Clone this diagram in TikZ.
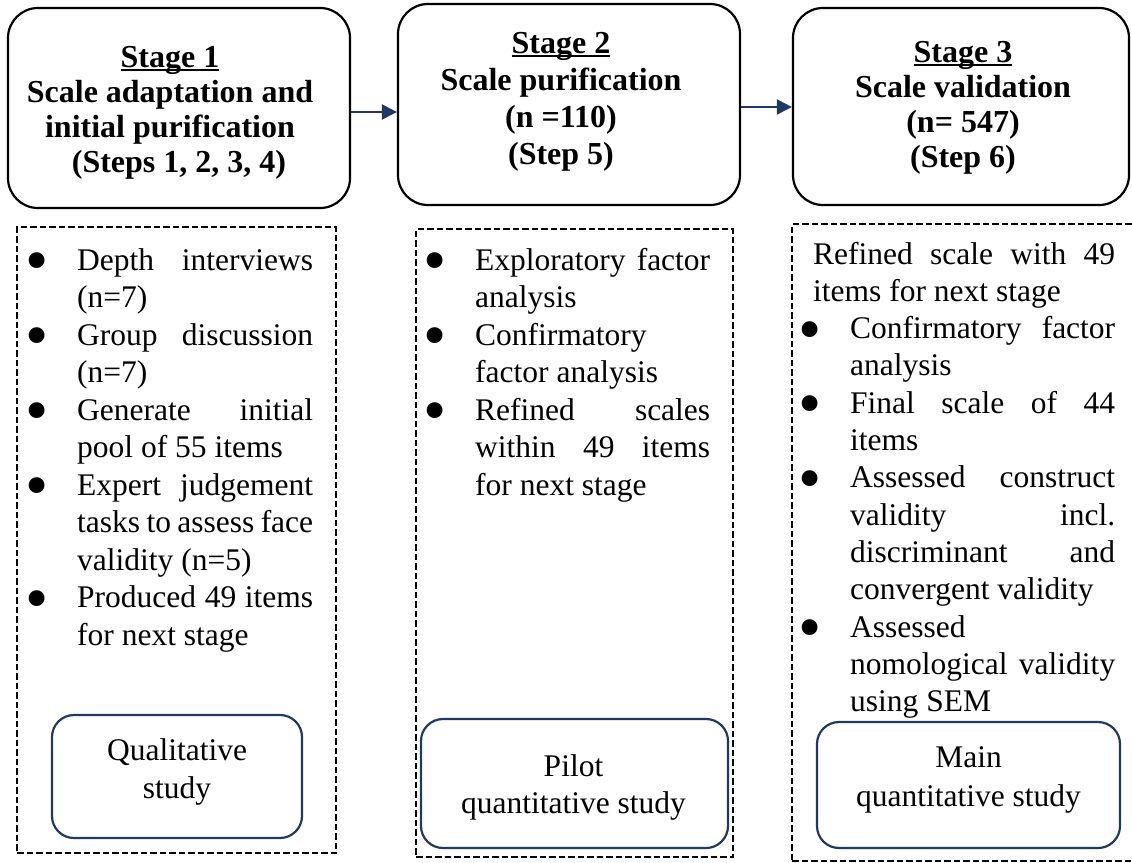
\documentclass[tikz,border=0pt]{standalone}
\usepackage{fontspec}
\setmainfont{Liberation Serif}
\usepackage{graphicx}
\usetikzlibrary{arrows.meta}
\definecolor{navy}{RGB}{31,56,100}
% a justified line spread to the full column width
\newcommand\jl[1]{\makebox[\linewidth][s]{#1}}
% bullet hanging to the left of the text column
\newcommand\bul{\leavevmode\llap{\makebox[51.6pt][l]{\raisebox{-12.5pt}{\scalebox{2.1}{\textbullet}}}}}
% underline drawn close to the baseline
\newcommand\stul[1]{\leavevmode\setbox0=\hbox{#1}\rlap{\rule[-4pt]{\wd0}{1.8pt}}\box0}
\begin{document}
\begin{tikzpicture}[x=1pt,y=-1pt,
  stagebox/.style={draw=black, line width=2.2pt, rounded corners=30pt, inner sep=0pt},
  listbox/.style={draw=black, line width=1.6pt, dash pattern=on 6.5pt off 3pt, inner sep=0pt},
  studybox/.style={draw=navy, line width=2.2pt, rounded corners=22pt, inner sep=0pt},
  flow/.style={draw=navy, line width=2.2pt, -{Triangle[length=15pt,width=15pt]}},
  stagetitle/.style={inner sep=0pt, anchor=base, font=\fontsize{32}{35}\selectfont\bfseries},
  listtext/.style={inner sep=0pt, anchor=base west, font=\fontsize{31.5}{37.5}\selectfont},
  studytext/.style={inner sep=0pt, anchor=base, font=\fontsize{31.5}{38}\selectfont},
]
\clip (0,0) rectangle (1132,862);

% stage headers
\node[stagebox, minimum width=342pt, minimum height=200pt] (s1) at (179,108) {};
\node[stagebox, minimum width=342pt, minimum height=201pt] (s2) at (569,104.5) {};
\node[stagebox, minimum width=336pt, minimum height=197pt] (s3) at (961,106.5) {};

\node[stagetitle] (t1) at (170,67) {\parbox[t]{330pt}{\centering
  \stul{Stage 1}\\
  Scale adaptation and\\
  initial purification\hspace*{20pt}\\
  \hspace*{18pt}(Steps 1, 2, 3, 4)}};
\node[stagetitle, font=\fontsize{32}{37.3}\selectfont\bfseries] (t2) at (561,53) {\parbox[t]{330pt}{\centering
  \stul{Stage 2}\\
  Scale purification\\
  (n =110)\\
  (Step 5)}};
\node[stagetitle] (t3) at (963,62) {\parbox[t]{330pt}{\centering
  \stul{Stage 3}\hspace*{14pt}\\
  Scale validation\\
  (n= 547)\\
  (Step 6)}};

\draw[flow] ([yshift=-4pt]s1.east) -- ([yshift=-7.5pt]s2.west);
\draw[flow] ([yshift=-2.5pt]s2.east) -- ([yshift=-0.5pt]s3.west);

% dashed detail panels
\node[listbox, minimum width=319pt, minimum height=626pt] (da) at (176.5,540) {};
\node[listbox, minimum width=317pt, minimum height=628pt] (db) at (574.5,543) {};
\node[listbox, minimum width=350pt, minimum height=637pt] (dc) at (967,542.5) {};

\node[listtext] (la) at (77,270) {\parbox[t]{236pt}{%
  \bul\jl{Depth interviews}\\
  (n=7)\\
  \bul\jl{Group discussion}\\
  (n=7)\\
  \bul\jl{Generate initial}\\
  pool of 55 items\\
  \bul\jl{Expert judgement}\\
  \jl{tasks to assess face}\\
  validity (n=5)\\
  \bul\jl{Produced 49 items}\\
  for next stage}};

\node[listtext] (lb) at (475,270) {\parbox[t]{235pt}{%
  \bul\jl{Exploratory factor}\\
  analysis\\
  \bul Confirmatory\\
  factor analysis\\
  \bul\jl{Refined scales}\\
  \jl{within 49 items}\\
  for next stage}};

\node[listtext, font=\fontsize{31.5}{37.3}\selectfont] (lc) at (813,264) {\parbox[t]{302pt}{%
  \jl{Refined scale with 49}\\
  items for next stage}};
\node[listtext, font=\fontsize{31.5}{37.3}\selectfont] (ld) at (850,338.6) {\parbox[t]{265pt}{%
  \bul\jl{Confirmatory factor}\\
  analysis\\
  \bul\jl{Final scale of 44}\\
  items\\
  \bul\jl{Assessed construct}\\
  \jl{validity incl.}\\
  \jl{discriminant and}\\
  convergent validity\\
  \bul Assessed\\
  \jl{nomological validity}\\
  using SEM}};

% study type boxes
\node[studybox, minimum width=250pt, minimum height=123pt] (q) at (177,776.5) {};
\node[studybox, minimum width=307pt, minimum height=129pt] (p) at (574.5,783.5) {};
\node[studybox, minimum width=303pt, minimum height=126pt] (m) at (968.5,785) {};

\node[studytext] (qt) at (177,760) {\parbox[t]{240pt}{\centering Qualitative\\ study}};
\node[studytext, font=\fontsize{31.5}{37}\selectfont] (pt) at (573.5,776) {\parbox[t]{300pt}{\centering Pilot\\ quantitative study}};
\node[studytext, font=\fontsize{31.5}{39}\selectfont] (mt) at (968.5,767) {\parbox[t]{300pt}{\centering Main\\ quantitative study}};
\end{tikzpicture}
\end{document}
